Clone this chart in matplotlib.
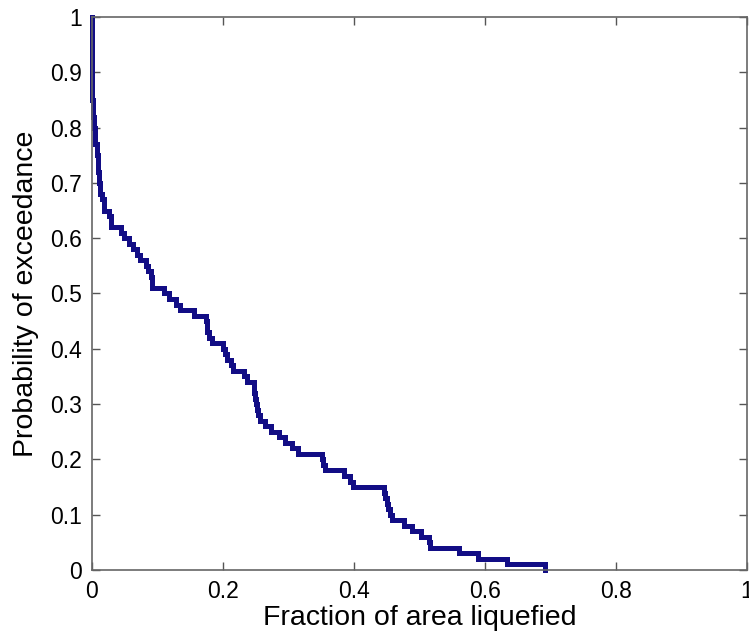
import numpy as np
import matplotlib.pyplot as plt

plt.rcParams['font.family'] = ['Liberation Sans', 'DejaVu Sans']

# exceedance curve: x where each step starts, level after it
frac_area = [0.0, 0.0, 0.001, 0.002, 0.003, 0.004, 0.005, 0.007, 0.009, 0.011,
             0.013, 0.015, 0.018, 0.026, 0.029, 0.045, 0.049, 0.057, 0.063, 0.068,
             0.074, 0.082, 0.086, 0.090, 0.091, 0.110, 0.118, 0.128, 0.135, 0.155,
             0.174, 0.175, 0.176, 0.178, 0.183, 0.200, 0.203, 0.206, 0.213, 0.216,
             0.232, 0.236, 0.247, 0.248, 0.249, 0.250, 0.252, 0.254, 0.256, 0.264,
             0.274, 0.285, 0.295, 0.305, 0.314, 0.351, 0.353, 0.355, 0.385, 0.394,
             0.398, 0.446, 0.448, 0.450, 0.452, 0.455, 0.458, 0.477, 0.489, 0.503,
             0.515, 0.516, 0.560, 0.589, 0.634, 0.691]
prob_exceed = [1.00, 0.85, 0.84, 0.82, 0.80, 0.78, 0.77, 0.75, 0.72, 0.70,
               0.68, 0.67, 0.65, 0.64, 0.62, 0.61, 0.60, 0.59, 0.58, 0.57,
               0.56, 0.55, 0.54, 0.53, 0.51, 0.50, 0.49, 0.48, 0.47, 0.46,
               0.45, 0.44, 0.43, 0.42, 0.41, 0.40, 0.39, 0.38, 0.37, 0.36,
               0.35, 0.34, 0.33, 0.32, 0.31, 0.30, 0.29, 0.28, 0.27, 0.26,
               0.25, 0.24, 0.23, 0.22, 0.21, 0.20, 0.19, 0.18, 0.17, 0.16,
               0.15, 0.14, 0.13, 0.12, 0.11, 0.10, 0.09, 0.08, 0.07, 0.06,
               0.05, 0.04, 0.03, 0.02, 0.01, 0.00]

xticks = [0, 0.2, 0.4, 0.6, 0.8, 1]
xtick_labels = ['0', '0.2', '0.4', '0.6', '0.8', '1']
yticks = [0, 0.1, 0.2, 0.3, 0.4, 0.5, 0.6, 0.7, 0.8, 0.9, 1]
ytick_labels = ['0', '0.1', '0.2', '0.3', '0.4', '0.5', '0.6', '0.7', '0.8', '0.9', '1']

fig = plt.figure(figsize=(7.49, 6.37), dpi=100)
ax = fig.add_axes([0.1228, 0.1052, 0.8745, 0.8681])

ax.plot(frac_area, prob_exceed, drawstyle='steps-post', color='#120d85',
        lw=3.6, solid_joinstyle='miter', clip_on=False)

ax.set_xlim(0, 1)
ax.set_ylim(0, 1)
ax.set_xticks(xticks)
ax.set_xticklabels(xtick_labels)
ax.set_yticks(yticks)
ax.set_yticklabels(ytick_labels)
ax.tick_params(direction='in', length=6, width=1, color='#555555',
               top=True, right=True, labelsize=16.5, pad=7)
for s in ax.spines.values():
    s.set_color('#666666')
    s.set_linewidth(1.2)

ax.set_xlabel('Fraction of area liquefied', fontsize=20.5, labelpad=2)
ax.set_ylabel('Probability of exceedance', fontsize=20.5, labelpad=8)

fig.savefig('out.png', dpi=100)
